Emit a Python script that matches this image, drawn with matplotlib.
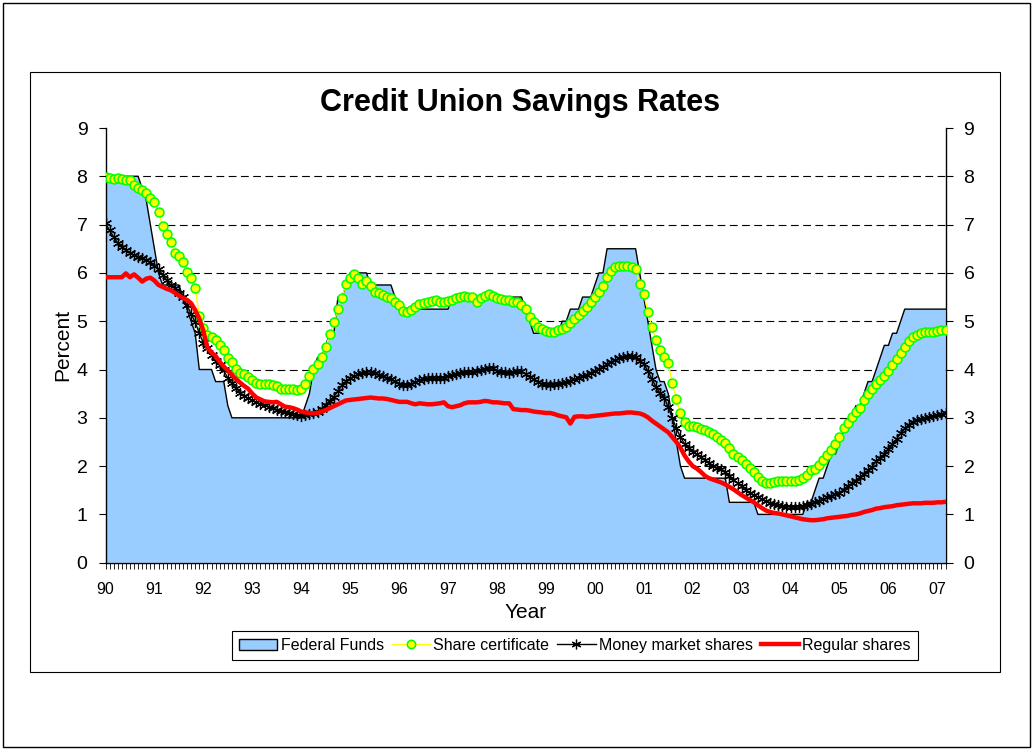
import numpy as np
import matplotlib
matplotlib.use('Agg')
import matplotlib.pyplot as plt
from matplotlib.patches import Patch, Rectangle
from matplotlib.lines import Line2D

plt.rcParams['font.family'] = ['Liberation Sans', 'DejaVu Sans']

# monthly data, Jan 1990 .. Mar 2007
year_labels = ['90', '91', '92', '93', '94', '95', '96', '97', '98', '99',
               '00', '01', '02', '03', '04', '05', '06', '07']

fed_funds = [
    8.0, 8.0, 8.0, 8.0, 8.0, 8.0, 8.0, 8.0, 8.0, 7.75, 7.5, 7.0,        # 90
    6.5, 6.0, 5.75, 5.75, 5.75, 5.75, 5.75, 5.5, 5.25, 5.0, 4.75, 4.0,  # 91
    4.0, 4.0, 4.0, 3.75, 3.75, 3.75, 3.25, 3.0, 3.0, 3.0, 3.0, 3.0,     # 92
    3.0, 3.0, 3.0, 3.0, 3.0, 3.0, 3.0, 3.0, 3.0, 3.0, 3.0, 3.0,         # 93
    3.0, 3.25, 3.5, 4.0, 4.25, 4.25, 4.5, 4.75, 4.75, 5.5, 5.5, 5.75,   # 94
    6.0, 6.0, 6.0, 6.0, 6.0, 5.75, 5.75, 5.75, 5.75, 5.75, 5.75, 5.5,   # 95
    5.25, 5.25, 5.25, 5.25, 5.25, 5.25, 5.25, 5.25, 5.25, 5.25, 5.25, 5.25,  # 96
    5.25, 5.5, 5.5, 5.5, 5.5, 5.5, 5.5, 5.5, 5.5, 5.5, 5.5, 5.5,        # 97
    5.5, 5.5, 5.5, 5.5, 5.5, 5.5, 5.5, 5.25, 5.0, 4.75, 4.75, 4.75,     # 98
    4.75, 4.75, 4.75, 4.75, 5.0, 5.0, 5.25, 5.25, 5.25, 5.5, 5.5, 5.5,  # 99
    5.75, 6.0, 6.0, 6.5, 6.5, 6.5, 6.5, 6.5, 6.5, 6.5, 6.5, 6.0,        # 00
    5.5, 5.0, 4.5, 4.0, 3.75, 3.75, 3.5, 3.0, 2.5, 2.0, 1.75, 1.75,     # 01
    1.75, 1.75, 1.75, 1.75, 1.75, 1.75, 1.75, 1.75, 1.75, 1.25, 1.25, 1.25,  # 02
    1.25, 1.25, 1.25, 1.25, 1.0, 1.0, 1.0, 1.0, 1.0, 1.0, 1.0, 1.0,     # 03
    1.0, 1.0, 1.0, 1.0, 1.25, 1.25, 1.5, 1.75, 1.75, 2.0, 2.25, 2.25,   # 04
    2.5, 2.75, 2.75, 3.0, 3.25, 3.25, 3.5, 3.75, 3.75, 4.0, 4.25, 4.5,  # 05
    4.5, 4.75, 4.75, 5.0, 5.25, 5.25, 5.25, 5.25, 5.25, 5.25, 5.25, 5.25,  # 06
    5.25, 5.25, 5.25,                                                    # 07
]

share_cert = [
    7.99, 7.97, 7.94, 7.97, 7.94, 7.92, 7.92, 7.83, 7.76, 7.72, 7.65, 7.56,
    7.47, 7.27, 6.97, 6.80, 6.63, 6.41, 6.36, 6.23, 6.02, 5.89, 5.69, 5.11,
    4.85, 4.71, 4.68, 4.61, 4.51, 4.40, 4.24, 4.15, 4.01, 3.92, 3.90, 3.85,
    3.78, 3.73, 3.71, 3.71, 3.69, 3.68, 3.66, 3.60, 3.60, 3.60, 3.60, 3.58,
    3.60, 3.71, 3.87, 4.01, 4.11, 4.25, 4.46, 4.73, 4.99, 5.25, 5.49, 5.78,
    5.90, 5.97, 5.89, 5.78, 5.83, 5.73, 5.61, 5.59, 5.55, 5.51, 5.47, 5.40,
    5.34, 5.22, 5.20, 5.23, 5.30, 5.35, 5.38, 5.40, 5.42, 5.43, 5.39, 5.40,
    5.42, 5.43, 5.47, 5.51, 5.52, 5.51, 5.51, 5.40, 5.49, 5.52, 5.56, 5.52,
    5.49, 5.46, 5.44, 5.44, 5.40, 5.39, 5.34, 5.25, 5.08, 4.98, 4.89, 4.84,
    4.80, 4.78, 4.78, 4.82, 4.83, 4.89, 4.97, 5.05, 5.13, 5.22, 5.30, 5.40,
    5.51, 5.61, 5.73, 5.91, 6.04, 6.12, 6.14, 6.15, 6.14, 6.13, 6.08, 5.78,
    5.56, 5.20, 4.87, 4.61, 4.40, 4.25, 4.13, 3.72, 3.38, 3.09, 2.92, 2.84,
    2.83, 2.80, 2.77, 2.75, 2.71, 2.66, 2.61, 2.54, 2.48, 2.37, 2.25, 2.18,
    2.13, 2.04, 1.97, 1.87, 1.77, 1.69, 1.66, 1.64, 1.68, 1.69, 1.69, 1.69,
    1.69, 1.69, 1.71, 1.75, 1.82, 1.92, 1.95, 2.02, 2.13, 2.22, 2.33, 2.45,
    2.61, 2.78, 2.89, 3.01, 3.13, 3.20, 3.37, 3.49, 3.60, 3.69, 3.78, 3.87,
    3.97, 4.09, 4.22, 4.35, 4.47, 4.58, 4.67, 4.71, 4.75, 4.78, 4.78, 4.78,
    4.80, 4.82, 4.82,
]

money_market = [
    7.03, 6.88, 6.74, 6.62, 6.54, 6.47, 6.42, 6.37, 6.33, 6.30, 6.27, 6.22,
    6.15, 6.08, 5.96, 5.85, 5.75, 5.68, 5.58, 5.50, 5.33, 5.15, 4.98, 4.75,
    4.55, 4.44, 4.30, 4.18, 4.09, 3.98, 3.82, 3.72, 3.62, 3.52, 3.45, 3.40,
    3.36, 3.32, 3.29, 3.26, 3.23, 3.20, 3.17, 3.15, 3.12, 3.09, 3.07, 3.05,
    3.04, 3.05, 3.07, 3.10, 3.13, 3.18, 3.27, 3.35, 3.44, 3.55, 3.68, 3.76,
    3.82, 3.86, 3.90, 3.93, 3.95, 3.95, 3.93, 3.89, 3.86, 3.83, 3.80, 3.76,
    3.71, 3.68, 3.68, 3.70, 3.74, 3.78, 3.81, 3.82, 3.82, 3.82, 3.83, 3.83,
    3.86, 3.88, 3.90, 3.93, 3.94, 3.95, 3.95, 3.97, 4.00, 4.02, 4.03, 4.04,
    3.97, 3.95, 3.94, 3.93, 3.94, 3.96, 3.96, 3.91, 3.85, 3.80, 3.74, 3.70,
    3.69, 3.68, 3.69, 3.70, 3.72, 3.74, 3.77, 3.80, 3.83, 3.86, 3.89, 3.93,
    3.97, 4.01, 4.06, 4.11, 4.16, 4.20, 4.23, 4.25, 4.27, 4.27, 4.26, 4.18,
    4.12, 3.97, 3.80, 3.64, 3.51, 3.42, 3.22, 3.00, 2.78, 2.60, 2.46, 2.37,
    2.30, 2.25, 2.18, 2.13, 2.07, 2.00, 1.96, 1.93, 1.88, 1.80, 1.72, 1.65,
    1.58, 1.50, 1.44, 1.40, 1.35, 1.32, 1.27, 1.24, 1.22, 1.20, 1.18, 1.16,
    1.15, 1.15, 1.16, 1.18, 1.20, 1.22, 1.25, 1.28, 1.31, 1.35, 1.38, 1.42,
    1.45, 1.51, 1.58, 1.64, 1.70, 1.77, 1.84, 1.91, 1.99, 2.10, 2.17, 2.25,
    2.35, 2.45, 2.56, 2.68, 2.78, 2.86, 2.92, 2.95, 2.98, 3.00, 3.02, 3.04,
    3.06, 3.08, 3.09,
]

regular_shares = [
    5.91, 5.91, 5.91, 5.91, 5.91, 5.99, 5.91, 5.97, 5.90, 5.82, 5.88, 5.90,
    5.84, 5.75, 5.71, 5.67, 5.64, 5.59, 5.53, 5.48, 5.44, 5.37, 5.23, 5.05,
    4.80, 4.45, 4.35, 4.28, 4.16, 4.06, 3.98, 3.89, 3.80, 3.73, 3.66, 3.60,
    3.50, 3.42, 3.38, 3.34, 3.33, 3.32, 3.33, 3.28, 3.23, 3.22, 3.20, 3.17,
    3.13, 3.11, 3.10, 3.09, 3.10, 3.13, 3.16, 3.20, 3.24, 3.28, 3.32, 3.36,
    3.37, 3.38, 3.39, 3.40, 3.41, 3.42, 3.41, 3.40, 3.40, 3.39, 3.37, 3.35,
    3.33, 3.33, 3.33, 3.30, 3.28, 3.30, 3.29, 3.28, 3.28, 3.29, 3.30, 3.32,
    3.24, 3.22, 3.24, 3.26, 3.30, 3.32, 3.32, 3.32, 3.33, 3.35, 3.34, 3.32,
    3.32, 3.31, 3.30, 3.30, 3.18, 3.17, 3.16, 3.16, 3.15, 3.13, 3.12, 3.11,
    3.10, 3.10, 3.08, 3.05, 3.03, 3.01, 2.88, 3.02, 3.03, 3.03, 3.02, 3.03,
    3.04, 3.05, 3.06, 3.07, 3.08, 3.09, 3.09, 3.10, 3.11, 3.11, 3.10, 3.09,
    3.06, 3.01, 2.94, 2.88, 2.82, 2.76, 2.70, 2.60, 2.50, 2.38, 2.22, 2.10,
    2.00, 1.95, 1.88, 1.80, 1.75, 1.72, 1.69, 1.66, 1.62, 1.57, 1.52, 1.46,
    1.40, 1.35, 1.30, 1.25, 1.19, 1.13, 1.08, 1.05, 1.03, 1.02, 1.00, 0.98,
    0.96, 0.94, 0.92, 0.90, 0.89, 0.88, 0.88, 0.89, 0.90, 0.92, 0.93, 0.94,
    0.95, 0.96, 0.97, 0.99, 1.00, 1.02, 1.05, 1.07, 1.09, 1.12, 1.13, 1.15,
    1.16, 1.17, 1.19, 1.20, 1.21, 1.22, 1.23, 1.23, 1.23, 1.24, 1.24, 1.24,
    1.25, 1.25, 1.26,
]

x = np.arange(len(fed_funds))
W, H = 1036, 750

fig = plt.figure(figsize=(W / 100, H / 100), dpi=100)
fig.patch.set_facecolor('white')

# outer frame and chart area frame
fig.add_artist(Rectangle((3 / W, 1 - 747 / H), 1027 / W, 744 / H, transform=fig.transFigure,
                         fill=False, ec='black', lw=1))
fig.add_artist(Rectangle((30 / W, 1 - 672 / H), 970 / W, 600 / H, transform=fig.transFigure,
                         fill=False, ec='black', lw=0.8))

ax = fig.add_axes([105.5 / W, 1 - 562.7 / H, 840 / W, 434.7 / H])

for g in range(1, 9):
    ax.axhline(g, color='black', lw=0.8, ls=(0, (7, 4)), zorder=0)

ax.fill_between(x, 0, fed_funds, facecolor='#99CCFF', edgecolor='none', zorder=1)
ax.plot(x, fed_funds, color='black', lw=1, zorder=2)
ax.plot(x, share_cert, color='#FFFF00', lw=1, marker='o', ms=6.4, mfc='#FFFF00',
        mec='#00FF00', mew=1.1, zorder=3)
ax.plot(x, money_market, color='black', lw=1, marker=(6, 2, 0), ms=8, mew=0.9, zorder=4)
ax.plot(x, regular_shares, color='#FF0000', lw=3.2, solid_capstyle='round', zorder=5)

ax.set_xlim(0, len(fed_funds) - 1)
ax.set_ylim(0, 9)
ax.set_xticks(np.arange(0, len(fed_funds), 12))
ax.set_xticklabels(year_labels, fontsize=11.5)
ax.set_xticks(x, minor=True)
ax.set_yticks(range(10))
ax.tick_params(axis='y', which='major', left=True, right=True, labelleft=True, labelright=True,
               direction='out', length=5, width=0.8, labelsize=14, pad=8)
ax.tick_params(axis='x', which='both', direction='out', length=4, width=0.6, pad=10)

ax.spines['top'].set_visible(False)
for s in ['left', 'right', 'bottom']:
    ax.spines[s].set_linewidth(1)
    ax.spines[s].set_color('black')

ax.set_xlabel('Year', fontsize=15, labelpad=4)
ax.set_ylabel('Percent', fontsize=15, labelpad=3)

fig.text(520 / W, 1 - 103 / H, 'Credit Union Savings Rates', ha='center', va='center',
         fontsize=22, fontweight='bold')

handles = [
    Patch(facecolor='#99CCFF', edgecolor='black', lw=1),
    Line2D([], [], color='#FFFF00', lw=1, marker='o', ms=6, mfc='#FFFF00', mec='#00FF00', mew=1.1),
    Line2D([], [], color='black', lw=1, marker=(6, 2, 0), ms=7, mew=0.9),
    Line2D([], [], color='#FF0000', lw=3.2),
]
labels = ['Federal Funds', 'Share certificate', 'Money market shares', 'Regular shares']
leg = fig.legend(handles, labels, loc='center', bbox_to_anchor=(575 / W, 1 - 645.5 / H),
                 ncol=4, frameon=True, fancybox=False, edgecolor='black', framealpha=1,
                 prop={'size': 11.5}, handlelength=2.4, handletextpad=0.2,
                 columnspacing=0.5, borderpad=0.45)
leg.get_frame().set_linewidth(0.8)

fig.savefig('out.png', dpi=100)
